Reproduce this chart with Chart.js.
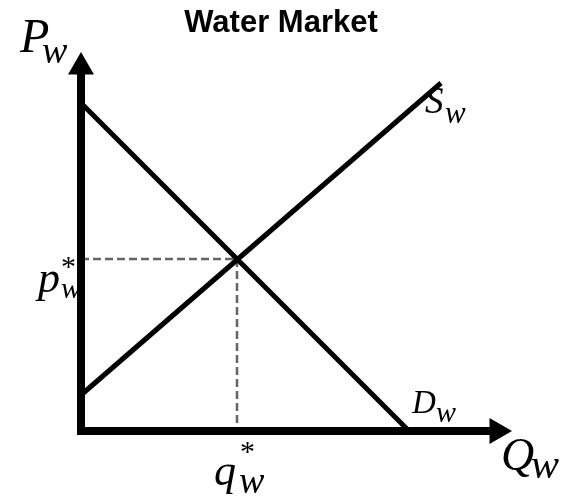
<!DOCTYPE html>
<html>
<head>
<meta charset="utf-8">
<script src="https://cdn.jsdelivr.net/npm/chart.js@4.4.1/dist/chart.umd.min.js"></script>
<style>
html,body{margin:0;padding:0;background:#fff}
#wrap{width:561px;height:498px}
</style>
</head>
<body>
<div id="wrap"><canvas id="chart"></canvas></div>
<script>
// values (quantity on x, price on y)
const demandQ = [0, 8.2];
const demandP = [8.2, 0];
const supplyQ = [0, 9];
const supplyP = [0.9, 8.7];
const eqQ = 3.9;
const eqP = 4.3;
const qAxisEnds = [-0.1, 10.4];
const pAxisEnds = [-0.1, 9.1];

const pts = (xs, ys) => xs.map((x, i) => ({x, y: ys[i]}));

// math-style labels, anchored in data units
const mathLabels = [
  {q: -1.525, p: 9.475, main: "P", size: 48, sub: "w", subSize: 38, subDx: 22, subDy: 11},
  {q: 8.6, p: 7.95, main: "S", size: 37, sub: "w", subSize: 31, subDx: 20, subDy: 10},
  {q: -1.075, p: 3.475, main: "p", size: 44, sup: "*", supSize: 30, supDx: 23, supDy: -16, sub: "w", subSize: 30, subDx: 23, subDy: 6},
  {q: 8.275, p: 0.45, main: "D", size: 33, sub: "w", subSize: 30, subDx: 24, subDy: 9},
  {q: 10.5, p: -0.975, main: "Q", size: 46, sub: "w", subSize: 42, subDx: 30, subDy: 8},
  {q: 3.325, p: -1.35, main: "q", size: 44, sup: "*", supSize: 30, supDx: 26, supDy: -24, sub: "w", subSize: 38, subDx: 25, subDy: 8}
];

const labelPlugin = {
  id: "mathLabels",
  afterDatasetsDraw(chart) {
    const ctx = chart.ctx, xs = chart.scales.x, ys = chart.scales.y;
    ctx.save();
    ctx.fillStyle = "#000";
    ctx.textAlign = "left";
    ctx.textBaseline = "alphabetic";
    mathLabels.forEach(l => {
      const x = xs.getPixelForValue(l.q), y = ys.getPixelForValue(l.p);
      ctx.font = `italic ${l.size}px "Liberation Serif", serif`;
      ctx.fillText(l.main, x, y);
      if (l.sup) {
        ctx.font = `${l.supSize}px "Liberation Serif", serif`;
        ctx.fillText(l.sup, x + l.supDx, y + l.supDy);
      }
      if (l.sub) {
        ctx.font = `italic ${l.subSize}px "Liberation Serif", serif`;
        ctx.fillText(l.sub, x + l.subDx, y + l.subDy);
      }
    });
    ctx.restore();
  }
};

const axisLine = (data, rot) => ({
  data,
  showLine: true,
  borderColor: "#000",
  backgroundColor: "#000",
  borderWidth: 8,
  pointStyle: "triangle",
  pointRotation: rot,
  pointRadius: [0, 15],
  pointHoverRadius: [0, 15],
  pointBorderWidth: 0,
  clip: false,
  order: 0
});

new Chart(document.getElementById("chart"), {
  type: "scatter",
  data: {
    datasets: [
      axisLine(pts([0, 0], pAxisEnds), 0),
      axisLine(pts(qAxisEnds, [0, 0]), 90),
      {
        data: pts(demandQ, demandP),
        showLine: true, borderColor: "#000", borderWidth: 5,
        pointRadius: 0, clip: false, order: 1
      },
      {
        data: pts(supplyQ, supplyP),
        showLine: true, borderColor: "#000", borderWidth: 5,
        pointRadius: 0, clip: false, order: 1
      },
      {
        data: [{x: 0, y: eqP}, {x: eqQ, y: eqP}, {x: eqQ, y: 0}],
        showLine: true, borderColor: "#666", borderWidth: 2.5,
        borderDash: [8, 4], pointRadius: 0, clip: false, order: 2
      }
    ]
  },
  options: {
    responsive: true,
    maintainAspectRatio: false,
    animation: false,
    events: [],
    layout: {autoPadding: false, padding: {left: 1, right: 0, top: 0, bottom: 7}},
    scales: {
      x: {type: "linear", min: -2, max: 12, display: false},
      y: {type: "linear", min: -1.5, max: 9.72, display: false}
    },
    plugins: {
      legend: {display: false},
      tooltip: {enabled: false},
      title: {
        display: true,
        text: "Water Market",
        color: "#000",
        font: {family: '"Liberation Sans", Arial, sans-serif', size: 31, weight: "bold", lineHeight: 1.2},
        padding: {top: 5, bottom: 0}
      }
    }
  },
  plugins: [labelPlugin]
});
</script>
</body>
</html>
